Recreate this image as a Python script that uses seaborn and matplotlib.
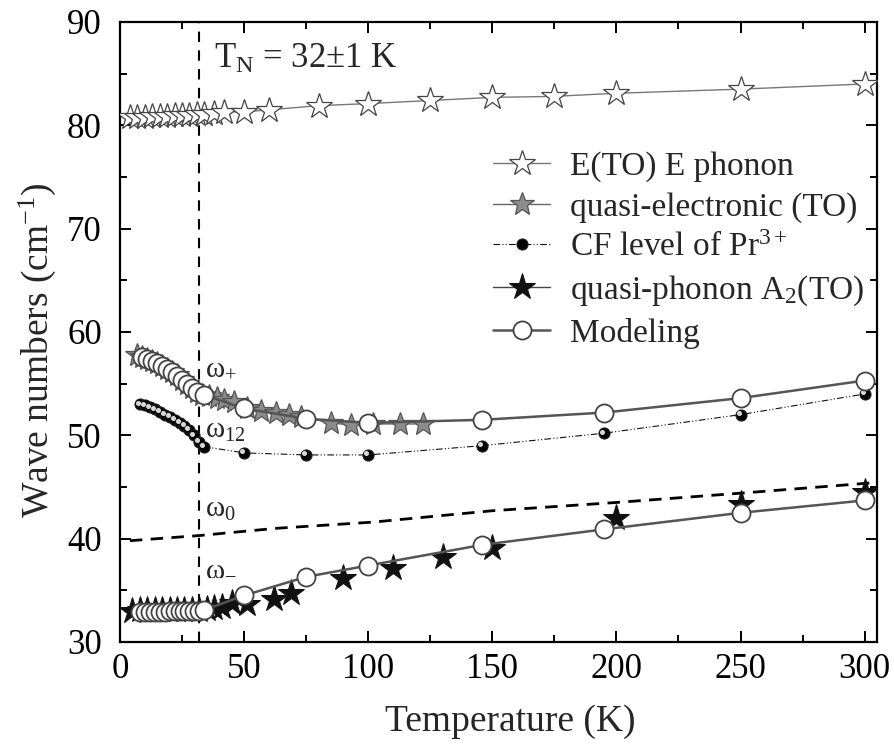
import numpy as np
import pandas as pd
import matplotlib
matplotlib.use("Agg")
import matplotlib.pyplot as plt
from matplotlib.transforms import offset_copy
import seaborn as sns

# E(TO) E phonon (open stars)
eto_T = [4, 7, 10, 13, 16, 19, 22, 25, 28, 31, 34, 38, 42, 50, 60, 80, 100, 125, 150, 175, 200, 250, 300]
eto_w = [80.8, 80.8, 80.8, 80.9, 80.9, 80.9, 81.0, 81.0, 81.0, 81.1, 81.1, 81.2, 81.3, 81.3, 81.5,
         81.9, 82.1, 82.4, 82.7, 82.8, 83.1, 83.5, 84.0]

# quasi-electronic (TO) (grey stars)
qe_T = [7, 9, 11, 13, 15, 17, 19, 21, 23, 25, 27, 29, 31, 33, 36, 39, 42, 46, 51, 57, 63, 68, 73,
        85, 93, 102, 113, 122]
qe_w = [57.8, 57.6, 57.4, 57.2, 57.0, 56.7, 56.4, 56.1, 55.8, 55.4, 55.0, 54.6, 54.2, 53.9, 53.8,
        53.6, 53.4, 53.2, 52.6, 52.4, 52.2, 52.0, 51.8, 51.2, 51.0, 51.1, 51.1, 51.1]

# CF level of Pr3+ (black balls)
cf_T = [8, 10, 12, 14, 16, 18, 20, 22, 24, 26, 28, 30, 32, 34, 50, 75, 100, 146, 195, 250, 300]
cf_w = [53.0, 52.9, 52.7, 52.5, 52.3, 52.0, 51.8, 51.5, 51.2, 50.9, 50.5, 50.0, 49.4, 48.9,
        48.3, 48.1, 48.1, 49.0, 50.2, 52.0, 54.0]

# quasi-phonon A2(TO) (black stars)
qp_T = [5, 8, 11, 14, 17, 20, 23, 26, 29, 32, 35, 38, 41, 45, 51, 62, 69, 90, 110, 130, 150, 200, 250, 300]
qp_w = [33.0, 33.1, 33.1, 33.1, 33.1, 33.1, 33.1, 33.1, 33.1, 33.1, 33.2, 33.3, 33.4, 33.8, 33.7,
        34.2, 34.7, 36.2, 37.2, 38.2, 39.1, 42.0, 43.4, 44.5]

# Modeling, upper (omega+) and lower (omega-) branches
mod_hi_T = [9, 11, 13, 15, 17, 19, 21, 23, 25, 27, 29, 31, 34, 50, 75, 100, 146, 195, 250, 300]
mod_hi_w = [57.6, 57.4, 57.2, 57.0, 56.7, 56.4, 56.1, 55.7, 55.4, 55.0, 54.6, 54.2, 53.9,
            52.6, 51.6, 51.2, 51.5, 52.2, 53.6, 55.3]
mod_lo_T = [8, 10, 12, 14, 16, 18, 20, 22, 24, 26, 28, 30, 32, 34, 50, 75, 100, 146, 195, 250, 300]
mod_lo_w = [32.9, 32.9, 32.9, 32.9, 32.9, 32.9, 33.0, 33.0, 33.0, 33.0, 33.0, 33.0, 33.0, 33.1,
            34.5, 36.3, 37.4, 39.4, 40.9, 42.5, 43.7]

# omega0 dashed line
w0_T = [4, 32, 63, 102, 150, 200, 250, 303]
w0_w = [39.8, 40.3, 41.0, 41.6, 42.7, 43.5, 44.4, 45.4]

T_N = 32

sns.set_theme(style="ticks")
plt.rcParams["font.family"] = ["Liberation Serif", "DejaVu Serif"]
plt.rcParams["mathtext.fontset"] = "custom"
plt.rcParams["mathtext.rm"] = "Liberation Serif"
plt.rcParams["mathtext.it"] = "Liberation Serif:italic"

fig = plt.figure(figsize=(8.95, 7.47), dpi=100)
ax = fig.add_axes([0.134, 0.1406, 0.846, 0.83])

sns.lineplot(x=eto_T, y=eto_w, ax=ax, sort=False, color="#777777", lw=1.0,
             marker="*", markersize=19, markerfacecolor="white", markeredgecolor="#444444",
             markeredgewidth=0.9, label="E(TO) E phonon", zorder=3)
sns.lineplot(x=qe_T, y=qe_w, ax=ax, sort=False, color="#666666", lw=1.0,
             marker="*", markersize=18, markerfacecolor="#8c8c8c", markeredgecolor="#555555",
             markeredgewidth=0.9, label="quasi-electronic (TO)", zorder=3)
sns.lineplot(x=cf_T, y=cf_w, ax=ax, sort=False, color="#111111", lw=0.8,
             linestyle=(0, (6, 2, 1, 2, 1, 2)),
             marker="o", markersize=8, markerfacecolor="black", markeredgecolor="#222222",
             label="CF level of Pr$^{3+}$", zorder=3)
# small highlight on the balls
ax.plot(cf_T, cf_w, "o", ms=2.6, color="#d8d8d8", zorder=3.5,
        transform=offset_copy(ax.transData, fig=fig, x=-1.4, y=1.2, units="points"))
sns.lineplot(x=qp_T, y=qp_w, ax=ax, sort=False, color="#444444", lw=0,
             marker="*", markersize=20, markerfacecolor="#111111", markeredgecolor="#111111",
             label="quasi-phonon A$_2$(TO)", zorder=4)
sns.lineplot(x=mod_hi_T, y=mod_hi_w, ax=ax, sort=False, color="#555555", lw=1.8,
             marker="o", markersize=13, markerfacecolor="white", markeredgecolor="#444444",
             markeredgewidth=1.3, label="Modeling", zorder=5)
sns.lineplot(x=mod_lo_T, y=mod_lo_w, ax=ax, sort=False, color="#555555", lw=1.8,
             marker="o", markersize=13, markerfacecolor="white", markeredgecolor="#444444",
             markeredgewidth=1.3, zorder=5)
sns.lineplot(x=w0_T, y=w0_w, ax=ax, sort=False, color="black", lw=2.0,
             linestyle=(0, (4.5, 3)), zorder=2)
ax.axvline(T_N, color="black", lw=1.5, linestyle=(0, (5, 4)), zorder=1)

ax.text(38, 85.6, "T$_\\mathrm{N}$ = 32±1 K", fontsize=25, va="baseline")
ax.text(34.3, 55.8, "ω$_{+}$", fontsize=21, va="baseline")
ax.text(34.3, 49.8, "ω$_{12}$", fontsize=21, va="baseline")
ax.text(34.3, 42.1, "ω$_{0}$", fontsize=21, va="baseline")
ax.text(34.3, 36.5, "ω$_{-}$", fontsize=21, va="baseline")

ax.set_xlim(0, 305)
ax.set_ylim(30, 90)
ax.set_xticks(np.arange(0, 301, 50))
ax.set_xticks(np.arange(25, 301, 50), minor=True)
ax.set_yticks(np.arange(30, 91, 10))
ax.set_yticks(np.arange(35, 90, 10), minor=True)
ax.tick_params(which="both", direction="in", top=True, right=True, width=1.4,
               labelsize=25, colors="black")
ax.tick_params(axis="x", which="both", pad=8)
ax.tick_params(axis="y", which="both", pad=13)
ax.tick_params(which="major", length=8)
ax.tick_params(which="minor", length=5)
for sp in ax.spines.values():
    sp.set_linewidth(1.6)
    sp.set_color("black")

ax.set_xlabel("Temperature (K)", fontsize=27)
ax.xaxis.set_label_coords(0.516, -0.10)
ax.set_ylabel("Wave numbers (cm$^{-1}$)", fontsize=27)
ax.yaxis.set_label_coords(-0.082, 0.47)

leg = ax.legend(loc="upper left", bbox_to_anchor=(0.493, 0.792), frameon=False, fontsize=24,
                handlelength=1.7, handletextpad=0.6, labelspacing=0.3, numpoints=1,
                borderaxespad=0, borderpad=0)
leg.legend_handles[3].set_linestyle("-")
leg.legend_handles[3].set_linewidth(1.0)
leg.legend_handles[3].set_color("#444444")

fig.savefig("out.png", dpi=100)
